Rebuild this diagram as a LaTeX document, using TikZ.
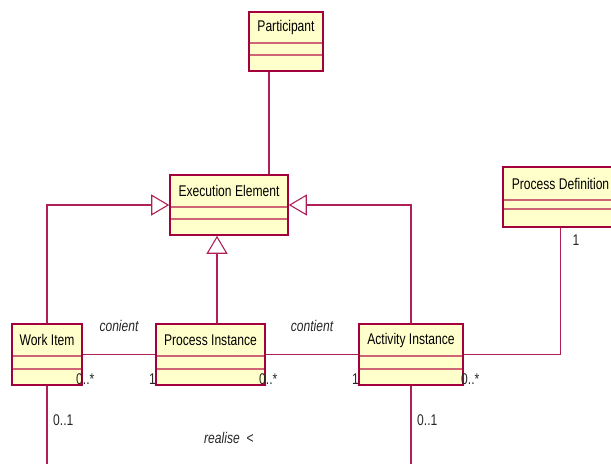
\documentclass[tikz,border=0pt]{standalone}
\usepackage{fontspec}
\newfontfamily\umlfont[FakeStretch=0.78]{Liberation Sans}
\usetikzlibrary{positioning, fit, arrows.meta}
\definecolor{umlfill}{HTML}{FFFFCC}
\definecolor{umlborder}{HTML}{A3003D}
\definecolor{umldiv}{HTML}{CC6677}
\definecolor{umlline}{HTML}{B02058}

\begin{document}
\begin{tikzpicture}[x=1pt,y=-1pt,
    every node/.style={font=\umlfont\fontsize{15.5}{18}\selectfont},
    cname/.style={rectangle,fill=umlfill,draw=umldiv,line width=1pt,inner sep=0pt,anchor=north west},
    ccomp/.style={rectangle,fill=umlfill,draw=umldiv,line width=1pt,inner sep=0pt},
    cbox/.style={rectangle,draw=umlborder,line width=1.6pt,inner sep=0pt},
    assoc/.style={draw=umlline,line width=1.1pt},
    gen/.style={assoc,-{Triangle[length=18pt,width=21pt,fill=white]}},
    mult/.style={inner sep=0pt,text=black!85},
    role/.style={inner sep=0pt,text=black!85,font=\umlfont\fontsize{15.5}{18}\selectfont\itshape}]
  \useasboundingbox (0,0) rectangle (611,464);

  % classes: name, attributes, operations
  \node[cname,minimum width=73,minimum height=30] (part-n) at (249,12) {Participant};
  \node[ccomp,minimum width=73,minimum height=10.5,below=0pt of part-n] (part-a) {};
  \node[ccomp,minimum width=73,minimum height=15.5,below=0pt of part-a] (part-o) {};
  \node[cbox,fit=(part-n)(part-o)] (part) {};

  \node[cname,minimum width=117,minimum height=30.7] (exec-n) at (170,175) {Execution Element};
  \node[ccomp,minimum width=117,minimum height=11.3,below=0pt of exec-n] (exec-a) {};
  \node[ccomp,minimum width=117,minimum height=15,below=0pt of exec-a] (exec-o) {};
  \node[cbox,fit=(exec-n)(exec-o)] (exec) {};

  \node[cname,minimum width=114,minimum height=32] (pdef-n) at (503,167) {Process Definition};
  \node[ccomp,minimum width=114,minimum height=8,below=0pt of pdef-n] (pdef-a) {};
  \node[ccomp,minimum width=114,minimum height=17,below=0pt of pdef-a] (pdef-o) {};
  \node[cbox,fit=(pdef-n)(pdef-o)] (pdef) {};

  \node[cname,minimum width=69,minimum height=31] (work-n) at (12,324) {Work Item};
  \node[ccomp,minimum width=69,minimum height=12,below=0pt of work-n] (work-a) {};
  \node[ccomp,minimum width=69,minimum height=15,below=0pt of work-a] (work-o) {};
  \node[cbox,fit=(work-n)(work-o)] (work) {};

  \node[cname,minimum width=108,minimum height=31] (pinst-n) at (156,324) {Process Instance};
  \node[ccomp,minimum width=108,minimum height=12,below=0pt of pinst-n] (pinst-a) {};
  \node[ccomp,minimum width=108,minimum height=15,below=0pt of pinst-a] (pinst-o) {};
  \node[cbox,fit=(pinst-n)(pinst-o)] (pinst) {};

  \node[cname,minimum width=103,minimum height=31] (ainst-n) at (359,324) {Activity Instance};
  \node[ccomp,minimum width=103,minimum height=12,below=0pt of ainst-n] (ainst-a) {};
  \node[ccomp,minimum width=103,minimum height=15,below=0pt of ainst-a] (ainst-o) {};
  \node[cbox,fit=(ainst-n)(ainst-o)] (ainst) {};

  % helper points
  \coordinate (pp) at (269,0);
  \coordinate (pi) at (217,0);
  \coordinate (bot) at (0,464);

  % generalisations
  \draw[gen] (work.north) |- (exec.west);
  \draw[gen] (pi |- pinst.north) -- (pi |- exec.south);
  \draw[gen] (ainst.north) |- (exec.east);

  % associations
  \draw[assoc] (pp |- part.south) -- (pp |- exec.north);
  \draw[assoc] (work.east) -- (pinst.west);
  \draw[assoc] (pinst.east) -- (ainst.west);
  \draw[assoc] (ainst.east) -| (pdef.south);
  \draw[assoc] (work.south) -- (work.south |- bot);
  \draw[assoc] (ainst.south) -- (ainst.south |- bot);

  % roles and multiplicities
  \node[role] (r1) at (119,326) {conient};
  \node[role] (r2) at (312,326) {contient};
  \node[role,anchor=west] (r3) at (204,438) {realise\ \ \upshape<};
  \node[mult,anchor=west] (m1) at (76,379) {0..*};
  \node[mult,anchor=east] (m2) at (156,379) {1};
  \node[mult,anchor=west] (m3) at (259,379) {0..*};
  \node[mult,anchor=east] (m4) at (359,379) {1};
  \node[mult,anchor=west] (m5) at (461,379) {0..*};
  \node[mult] (m6) at (576,240) {1};
  \node[mult,anchor=west] (m7) at (53,420) {0..1};
  \node[mult,anchor=west] (m8) at (417,420) {0..1};
\end{tikzpicture}
\end{document}
